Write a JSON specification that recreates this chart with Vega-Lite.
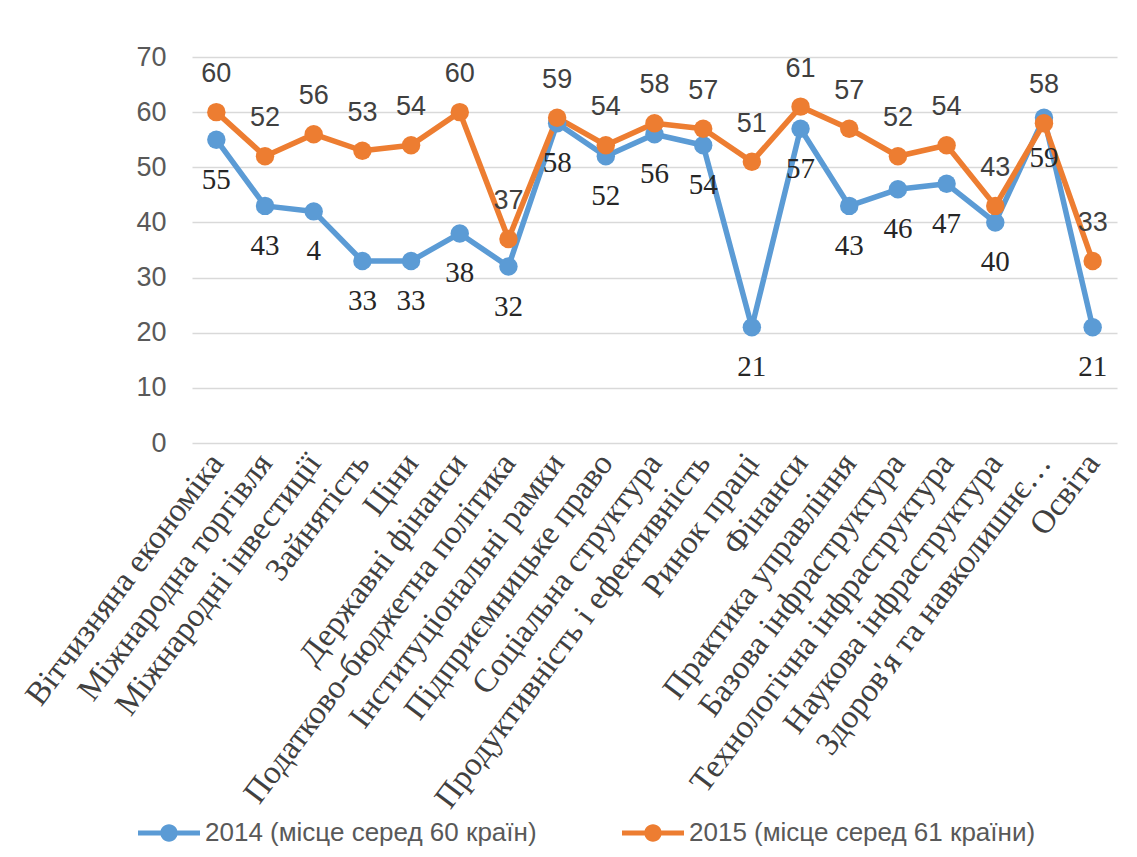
{
  "$schema": "https://vega.github.io/schema/vega-lite/v6.json",
  "width": 925,
  "height": 386,
  "autosize": {"type": "none"},
  "padding": {"left": 192, "top": 57, "right": 20, "bottom": 414},
  "background": "white",
  "config": {"view": {"stroke": null}},
  "data": {
    "values": [
      {"category": "Вітчизняна економіка", "series": "2014 (місце серед 60 країн)", "value": 55, "label": "55"},
      {"category": "Міжнародна торгівля", "series": "2014 (місце серед 60 країн)", "value": 43, "label": "43"},
      {"category": "Міжнародні інвестиції", "series": "2014 (місце серед 60 країн)", "value": 42, "label": "4"},
      {"category": "Зайнятість", "series": "2014 (місце серед 60 країн)", "value": 33, "label": "33"},
      {"category": "Ціни", "series": "2014 (місце серед 60 країн)", "value": 33, "label": "33"},
      {"category": "Державні фінанси", "series": "2014 (місце серед 60 країн)", "value": 38, "label": "38"},
      {"category": "Податково-бюджетна політика", "series": "2014 (місце серед 60 країн)", "value": 32, "label": "32"},
      {"category": "Інституціональні рамки", "series": "2014 (місце серед 60 країн)", "value": 58, "label": "58"},
      {"category": "Підприємницьке право", "series": "2014 (місце серед 60 країн)", "value": 52, "label": "52"},
      {"category": "Соціальна структура", "series": "2014 (місце серед 60 країн)", "value": 56, "label": "56"},
      {"category": "Продуктивність і ефективність", "series": "2014 (місце серед 60 країн)", "value": 54, "label": "54"},
      {"category": "Ринок праці", "series": "2014 (місце серед 60 країн)", "value": 21, "label": "21"},
      {"category": "Фінанси", "series": "2014 (місце серед 60 країн)", "value": 57, "label": "57"},
      {"category": "Практика управління", "series": "2014 (місце серед 60 країн)", "value": 43, "label": "43"},
      {"category": "Базова інфраструктура", "series": "2014 (місце серед 60 країн)", "value": 46, "label": "46"},
      {"category": "Технологічна інфраструктура", "series": "2014 (місце серед 60 країн)", "value": 47, "label": "47"},
      {"category": "Наукова інфраструктура", "series": "2014 (місце серед 60 країн)", "value": 40, "label": "40"},
      {"category": "Здоров'я та навколишнє…", "series": "2014 (місце серед 60 країн)", "value": 59, "label": "59"},
      {"category": "Освіта", "series": "2014 (місце серед 60 країн)", "value": 21, "label": "21"},
      {"category": "Вітчизняна економіка", "series": "2015 (місце серед 61 країни)", "value": 60, "label": "60"},
      {"category": "Міжнародна торгівля", "series": "2015 (місце серед 61 країни)", "value": 52, "label": "52"},
      {"category": "Міжнародні інвестиції", "series": "2015 (місце серед 61 країни)", "value": 56, "label": "56"},
      {"category": "Зайнятість", "series": "2015 (місце серед 61 країни)", "value": 53, "label": "53"},
      {"category": "Ціни", "series": "2015 (місце серед 61 країни)", "value": 54, "label": "54"},
      {"category": "Державні фінанси", "series": "2015 (місце серед 61 країни)", "value": 60, "label": "60"},
      {"category": "Податково-бюджетна політика", "series": "2015 (місце серед 61 країни)", "value": 37, "label": "37"},
      {"category": "Інституціональні рамки", "series": "2015 (місце серед 61 країни)", "value": 59, "label": "59"},
      {"category": "Підприємницьке право", "series": "2015 (місце серед 61 країни)", "value": 54, "label": "54"},
      {"category": "Соціальна структура", "series": "2015 (місце серед 61 країни)", "value": 58, "label": "58"},
      {"category": "Продуктивність і ефективність", "series": "2015 (місце серед 61 країни)", "value": 57, "label": "57"},
      {"category": "Ринок праці", "series": "2015 (місце серед 61 країни)", "value": 51, "label": "51"},
      {"category": "Фінанси", "series": "2015 (місце серед 61 країни)", "value": 61, "label": "61"},
      {"category": "Практика управління", "series": "2015 (місце серед 61 країни)", "value": 57, "label": "57"},
      {"category": "Базова інфраструктура", "series": "2015 (місце серед 61 країни)", "value": 52, "label": "52"},
      {"category": "Технологічна інфраструктура", "series": "2015 (місце серед 61 країни)", "value": 54, "label": "54"},
      {"category": "Наукова інфраструктура", "series": "2015 (місце серед 61 країни)", "value": 43, "label": "43"},
      {"category": "Здоров'я та навколишнє…", "series": "2015 (місце серед 61 країни)", "value": 58, "label": "58"},
      {"category": "Освіта", "series": "2015 (місце серед 61 країни)", "value": 33, "label": "33"}
    ]
  },
  "encoding": {
    "x": {
      "field": "category",
      "type": "nominal",
      "sort": null,
      "scale": {"type": "point", "padding": 0.5},
      "axis": {
        "title": null,
        "labelAngle": -53,
        "labelFont": "Liberation Serif",
        "labelFontSize": 33,
        "labelColor": "#404040",
        "labelPadding": 14,
        "labelLimit": 0,
        "labelOverlap": false,
        "ticks": false,
        "domain": false,
        "grid": false
      }
    },
    "y": {
      "field": "value",
      "type": "quantitative",
      "scale": {"domain": [0, 70], "nice": false},
      "axis": {
        "title": null,
        "values": [0, 10, 20, 30, 40, 50, 60, 70],
        "labelFont": "Liberation Sans",
        "labelFontSize": 27,
        "labelColor": "#595959",
        "labelPadding": 26,
        "ticks": false,
        "domain": false,
        "grid": true,
        "gridColor": "#d9d9d9",
        "gridWidth": 1.5
      }
    },
    "color": {
      "field": "series",
      "type": "nominal",
      "scale": {"domain": ["2014 (місце серед 60 країн)", "2015 (місце серед 61 країни)"], "range": ["#5B9BD5", "#ED7D31"]},
      "legend": {
        "title": null,
        "orient": "none",
        "legendX": -54,
        "legendY": 745,
        "direction": "horizontal",
        "symbolType": "M-1,-0.08L1,-0.08L1,0.08L-1,0.08Z M-0.28,0A0.28,0.28 0 1,1 0.28,0A0.28,0.28 0 1,1 -0.28,0Z",
        "symbolSize": 3844,
        "symbolStrokeWidth": 0,
        "symbolOpacity": 1,
        "labelFont": "Liberation Sans",
        "labelFontSize": 26,
        "labelColor": "#595959",
        "labelOffset": 5,
        "labelLimit": 0,
        "columnPadding": 85
      }
    }
  },
  "layer": [
    {
      "mark": {"type": "line", "strokeWidth": 5.5, "strokeJoin": "round"}
    },
    {
      "mark": {"type": "point", "filled": true, "opacity": 1},
      "encoding": {"size": {"value": 340}}
    },
    {
      "transform": [{"filter": "datum.series === '2015 (місце серед 61 країни)'"}],
      "mark": {"type": "text", "dy": -38, "font": "Liberation Sans", "fontSize": 27, "color": "#404040"},
      "encoding": {"text": {"field": "label", "type": "nominal"}, "color": {"value": "#404040"}}
    },
    {
      "transform": [{"filter": "datum.series === '2014 (місце серед 60 країн)'"}],
      "mark": {"type": "text", "dy": 40, "font": "Liberation Serif", "fontSize": 29, "color": "#262626"},
      "encoding": {"text": {"field": "label", "type": "nominal"}, "color": {"value": "#262626"}}
    }
  ]
}
